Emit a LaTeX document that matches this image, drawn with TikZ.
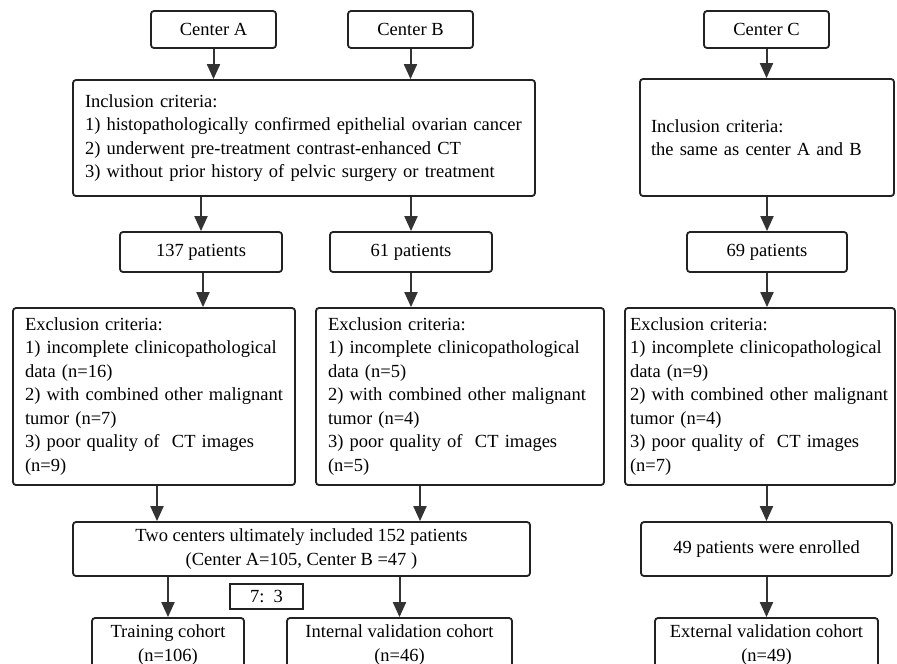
\documentclass[tikz,border=0pt]{standalone}
\usepackage{fontspec}
\setmainfont{Liberation Serif}
\usepackage{tikz}
\usetikzlibrary{arrows.meta,positioning,calc}

\definecolor{linegray}{HTML}{222222}
\definecolor{arrowgray}{HTML}{333333}

\begin{document}
\begin{tikzpicture}[
    x=1pt, y=-1pt,
    box/.style={draw=linegray, rounded corners=3pt, line width=1.8pt, inner ysep=0pt,
        font=\fontsize{18.5}{23.5}\selectfont, align=center},
    textbox/.style={box, align=left, inner xsep=12pt},
    flow/.style={-{Triangle[length=15pt,width=13pt]}, draw=arrowgray, fill=arrowgray, line width=2pt}
]
\useasboundingbox (0,0) rectangle (897,664);
\fill[white] (0,0) rectangle (897,664);

% Center boxes
\node[box, minimum width=125pt, minimum height=37pt] (cenA) at (213.5,29.5) {Center A};
\node[box, minimum width=125pt, minimum height=37pt] (cenB) at (410.5,29.5) {Center B};
\node[box, minimum width=125pt, minimum height=37pt] (cenC) at (766.5,29.5) {Center C};

% Inclusion criteria
\node[textbox, text width=438pt, minimum height=116pt] (incl) at (304,138)
    {Inclusion criteria:\\
     1) histopathologically confirmed epithelial ovarian cancer\\
     2) underwent pre-treatment contrast-enhanced CT\\
     3) without prior history of pelvic surgery or treatment};
\node[textbox, inner xsep=11pt, text width=232pt, minimum height=117pt] (inclC) at (767,137.5)
    {Inclusion criteria:\\
     the same as center A and B};

% Patient counts
\node[box, minimum width=162pt, minimum height=40pt] (p137) at (201,252) {137 patients};
\node[box, minimum width=162pt, minimum height=40pt] (p61) at (411,252) {61 patients};
\node[box, minimum width=160pt, minimum height=40pt] (p69) at (767,252) {69 patients};

% Exclusion criteria
\node[textbox, text width=258pt, minimum height=177pt] (exclA) at (154,396.5)
    {Exclusion criteria:\\
     1) incomplete clinicopathological\\
     data (n=16)\\
     2) with combined other malignant\\
     tumor (n=7)\\
     3) poor quality of\ \ CT images\\
     (n=9)};
\node[textbox, text width=264pt, minimum height=177pt] (exclB) at (460,396.5)
    {Exclusion criteria:\\
     1) incomplete clinicopathological\\
     data (n=5)\\
     2) with combined other malignant\\
     tumor (n=4)\\
     3) poor quality of\ \ CT images\\
     (n=5)};
\node[textbox, inner xsep=5pt, text width=260pt, minimum height=177pt] (exclC) at (760,396.5)
    {Exclusion criteria:\\
     1) incomplete clinicopathological\\
     data (n=9)\\
     2) with combined other malignant\\
     tumor (n=4)\\
     3) poor quality of\ \ CT images\\
     (n=7)};

% Final counts
\node[box, minimum width=457pt, minimum height=54pt] (two) at (301.5,549)
    {Two centers ultimately included 152 patients\\
     (Center A=105, Center B =47 )};
\node[box, minimum width=251pt, minimum height=54pt] (p49) at (766.5,549) {49 patients were enrolled};
\node[box, rounded corners=0pt, minimum width=73pt, minimum height=25pt] (ratio) at (266.5,596.5) {7:\ \ 3};

% Cohorts
\node[box, minimum width=152pt, minimum height=54pt] (train) at (168,645) {Training cohort\\(n=106)};
\node[box, minimum width=225pt, minimum height=54pt] (intval) at (399.5,645) {Internal validation cohort\\(n=46)};
\node[box, minimum width=223pt, minimum height=54pt] (extval) at (766.5,645) {External validation cohort\\(n=49)};

% Arrows
\draw[flow] (cenA) -- (cenA |- incl.north);
\draw[flow] (cenB) -- (cenB |- incl.north);
\draw[flow] (cenC) -- (cenC |- inclC.north);
\draw[flow] (p137 |- incl.south) -- (p137);
\draw[flow] (p61 |- incl.south) -- (p61);
\draw[flow] (p69 |- inclC.south) -- (p69);
\draw[flow] ([xshift=2pt]p137.south) -- ([xshift=2pt]p137.south |- exclA.north);
\draw[flow] (p61) -- (p61 |- exclB.north);
\draw[flow] (p69) -- (p69 |- exclC.north);
\draw[flow] ([xshift=3pt]exclA.south) -- ([xshift=3pt]exclA.south |- two.north);
\draw[flow] ([xshift=-40pt]exclB.south) -- ([xshift=-40pt]exclB.south |- two.north);
\draw[flow] (p49 |- exclC.south) -- (p49);
\draw[flow] (train |- two.south) -- (train);
\draw[flow] (intval |- two.south) -- (intval);
\draw[flow] (p49) -- (p49 |- extval.north);

\end{tikzpicture}
\end{document}
